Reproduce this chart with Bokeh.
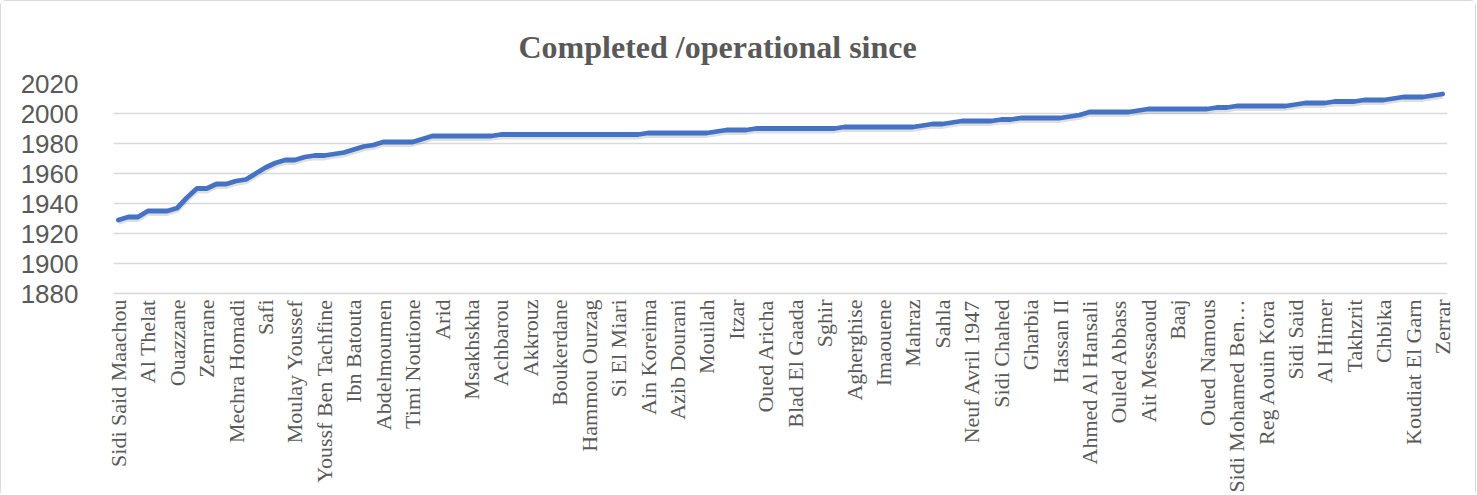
import numpy as np
from bokeh.plotting import figure
from bokeh.models import FixedTicker, Title, ColumnDataSource
from bokeh.embed import file_html
from bokeh.resources import INLINE

# ---- data ----
years = [
    1929, 1931, 1931, 1935, 1935, 1935, 1937, 1944, 1950, 1950,
    1953, 1953, 1955, 1956, 1960, 1964, 1967, 1969, 1969, 1971,
    1972, 1972, 1973, 1974, 1976, 1978, 1979, 1981, 1981, 1981,
    1981, 1983, 1985, 1985, 1985, 1985, 1985, 1985, 1985, 1986,
    1986, 1986, 1986, 1986, 1986, 1986, 1986, 1986, 1986, 1986,
    1986, 1986, 1986, 1986, 1987, 1987, 1987, 1987, 1987, 1987,
    1987, 1988, 1989, 1989, 1989, 1990, 1990, 1990, 1990, 1990,
    1990, 1990, 1990, 1990, 1991, 1991, 1991, 1991, 1991, 1991,
    1991, 1991, 1992, 1993, 1993, 1994, 1995, 1995, 1995, 1995,
    1996, 1996, 1997, 1997, 1997, 1997, 1997, 1998, 1999, 2001,
    2001, 2001, 2001, 2001, 2002, 2003, 2003, 2003, 2003, 2003,
    2003, 2003, 2004, 2004, 2005, 2005, 2005, 2005, 2005, 2005,
    2006, 2007, 2007, 2007, 2008, 2008, 2008, 2009, 2009, 2009,
    2010, 2011, 2011, 2011, 2012, 2013,
]

shown_labels = [
    "Sidi Said Maachou", "Al Thelat", "Ouazzane", "Zemrane", "Mechra Homadi",
    "Safi", "Moulay Youssef", "Youssf Ben Tachfine", "Ibn Batouta", "Abdelmoumen",
    "Timi Noutione", "Arid", "Msakhskha", "Achbarou", "Akkrouz",
    "Boukerdane", "Hammou Ourzag", "Si El Miari", "Ain Koreima", "Azib Dourani",
    "Mouilah", "Itzar", "Oued Aricha", "Blad El Gaada", "Sghir",
    "Agherghise", "Imaouene", "Mahraz", "Sahla", "Neuf Avril 1947",
    "Sidi Chahed", "Gharbia", "Hassan II", "Ahmed Al Hansali", "Ouled Abbass",
    "Ait Messaoud", "Baaj", "Oued Namous", "Sidi Mohamed Ben\u2026", "Reg Aouin Kora",
    "Sidi Said", "Al Himer", "Takhzrit", "Chbika", "Koudiat El Garn", "Zerrar",
]
label_step = 3
y_ticks = [1880, 1900, 1920, 1940, 1960, 1980, 2000, 2020]
title_text = "Completed /operational since"

# ---- plot ----
x = np.arange(len(years))
src = ColumnDataSource(dict(x=x, y=years, ys=np.array(years) - 1.6))

p = figure(width=1474, height=491, output_backend="svg", toolbar_location=None,
           x_range=(-0.5, len(years) - 0.5), y_range=(y_ticks[0], y_ticks[-1]),
           min_border_left=112, min_border_right=28, min_border_top=82,
           min_border_bottom=199)
p.frame_width = 1334
p.frame_height = 210
p.styles = {"border": "1px solid #d9d9d9", "border-radius": "6px"}
p.outline_line_color = None

t = Title(text=title_text, align="left", text_font="Liberation Serif",
          text_font_size="32px", text_font_style="bold", text_color="#595959",
          offset=405, standoff=37)
p.title = t

# shadow + line
p.line("x", "ys", source=src, line_color="#7f7f7f", line_alpha=0.25,
       line_width=5, line_join="round")
p.line("x", "y", source=src, line_color="#4472C4", line_width=4.8,
       line_join="round", line_cap="round")

# y axis
p.yaxis.ticker = FixedTicker(ticks=y_ticks)
p.yaxis.axis_line_color = None
p.yaxis.major_tick_line_color = None
p.yaxis.minor_tick_line_color = None
p.yaxis.major_label_text_font = "Liberation Sans"
p.yaxis.major_label_text_font_size = "26px"
p.yaxis.major_label_text_color = "#595959"
p.yaxis.major_label_standoff = 29

# x axis
ticks = list(range(0, len(years), label_step))
p.xaxis.ticker = FixedTicker(ticks=ticks)
p.xaxis.major_label_overrides = {k: lab for k, lab in zip(ticks, shown_labels)}
p.xaxis.major_label_orientation = np.pi / 2
p.xaxis.axis_line_color = "#d9d9d9"
p.xaxis.axis_line_width = 1.5
p.xaxis.major_tick_line_color = None
p.xaxis.minor_tick_line_color = None
p.xaxis.major_label_text_font = "Liberation Serif"
p.xaxis.major_label_text_font_size = "22px"
p.xaxis.major_label_text_color = "#595959"
p.xaxis.major_label_standoff = 0

p.xgrid.grid_line_color = None
p.ygrid.ticker = FixedTicker(ticks=y_ticks)
p.ygrid.grid_line_color = "#d9d9d9"
p.ygrid.grid_line_width = 1.5

open("out.html", "w").write(file_html(p, INLINE))
